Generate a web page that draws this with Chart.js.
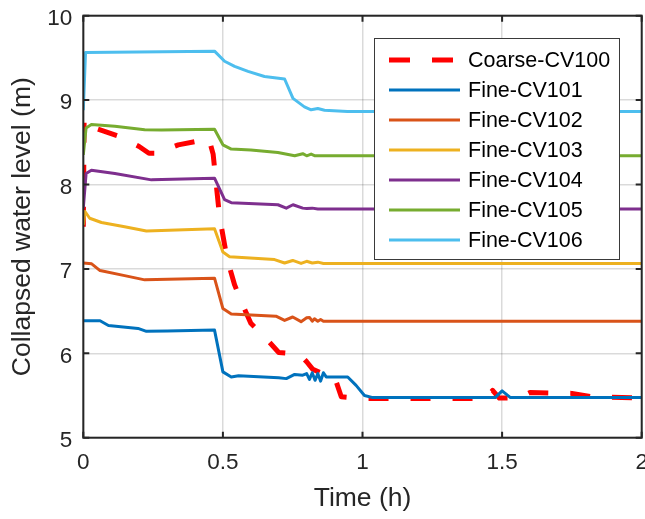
<!DOCTYPE html>
<html>
<head>
<meta charset="utf-8">
<script src="https://cdn.jsdelivr.net/npm/chart.js@4.4.1/dist/chart.umd.min.js"></script>
<style>
  html, body { margin: 0; padding: 0; overflow: hidden; background: #fff; }
  #wrap { width: 660px; height: 519px; }
</style>
</head>
<body>
<div id="wrap"><canvas id="level-chart" width="660" height="519"></canvas></div>
<script>
// series: [time (h), collapsed water level (m)]
const seriesNames = ['Coarse-CV100', 'Fine-CV101', 'Fine-CV102', 'Fine-CV103', 'Fine-CV104', 'Fine-CV105', 'Fine-CV106'];
const seriesColors = ['#ff0000', '#0072bd', '#d95319', '#edb120', '#7e2f8e', '#77ac30', '#4dbeee'];

const coarseCV100 = [[0, 7.5], [0.003, 8.78], [0.03, 8.68], [0.125, 8.575], [0.2, 8.45], [0.235, 8.37], [0.26, 8.37],
  [0.34, 8.47], [0.45, 8.54], [0.465, 8.36], [0.488, 7.62], [0.515, 7.12], [0.542, 6.81], [0.566, 6.61], [0.6, 6.355],
  [0.649, 6.195], [0.7, 6.01], [0.775, 5.99], [0.8, 5.9], [0.822, 5.81], [0.87, 5.74], [0.9, 5.72], [0.924, 5.485],
  [0.995, 5.465], [1.44, 5.465], [1.466, 5.56], [1.49, 5.47], [1.56, 5.47], [1.6, 5.535], [1.67, 5.53], [1.75, 5.525],
  [1.82, 5.485], [2.0, 5.47]];
const fineCV101 = [[0, 6.385], [0.06, 6.385], [0.09, 6.33], [0.196, 6.295], [0.226, 6.26], [0.3, 6.265], [0.47, 6.275],
  [0.5, 5.78], [0.53, 5.72], [0.556, 5.735], [0.7, 5.71], [0.727, 5.7], [0.757, 5.75], [0.786, 5.74], [0.8, 5.76],
  [0.81, 5.69], [0.82, 5.77], [0.83, 5.68], [0.84, 5.76], [0.85, 5.67], [0.86, 5.77], [0.87, 5.72], [0.894, 5.72],
  [0.947, 5.72], [0.977, 5.62], [1.007, 5.5], [1.037, 5.475], [1.475, 5.475], [1.5, 5.555], [1.53, 5.475], [2.0, 5.475]];
const fineCV102 = [[0, 7.07], [0.03, 7.06], [0.06, 6.98], [0.148, 6.92], [0.22, 6.87], [0.47, 6.89], [0.5, 6.53],
  [0.53, 6.465], [0.69, 6.44], [0.721, 6.39], [0.75, 6.43], [0.78, 6.375], [0.8, 6.42], [0.81, 6.425], [0.82, 6.38],
  [0.828, 6.41], [0.84, 6.38], [0.85, 6.4], [0.86, 6.38], [2.0, 6.38]];
const fineCV103 = [[0, 7.52], [0.006, 7.68], [0.023, 7.6], [0.065, 7.55], [0.148, 7.5], [0.226, 7.45], [0.47, 7.475],
  [0.5, 7.2], [0.524, 7.145], [0.685, 7.11], [0.721, 7.07], [0.75, 7.1], [0.78, 7.065], [0.8, 7.09], [0.82, 7.07],
  [0.84, 7.08], [0.86, 7.065], [2.0, 7.065]];
const fineCV104 = [[0, 7.72], [0.01, 8.13], [0.029, 8.17], [0.113, 8.13], [0.244, 8.055], [0.47, 8.075], [0.506, 7.82],
  [0.53, 7.785], [0.697, 7.76], [0.727, 7.72], [0.751, 7.76], [0.786, 7.72], [0.8, 7.715], [0.82, 7.72], [0.84, 7.71],
  [2.0, 7.71]];
const fineCV105 = [[0, 8.35], [0.01, 8.67], [0.029, 8.71], [0.113, 8.69], [0.22, 8.65], [0.28, 8.645], [0.47, 8.655],
  [0.5, 8.47], [0.53, 8.42], [0.6, 8.41], [0.697, 8.38], [0.757, 8.34], [0.786, 8.365], [0.8, 8.34], [0.816, 8.36],
  [0.83, 8.34], [2.0, 8.34]];
const fineCV106 = [[0, 8.88], [0.008, 9.565], [0.47, 9.58], [0.506, 9.46], [0.542, 9.4], [0.59, 9.34], [0.649, 9.28],
  [0.721, 9.25], [0.751, 9.02], [0.792, 8.92], [0.816, 8.885], [0.84, 8.9], [0.864, 8.88], [0.946, 8.865], [2.0, 8.865]];

const allSeries = [coarseCV100, fineCV101, fineCV102, fineCV103, fineCV104, fineCV105, fineCV106];

const xTicks = [0, 0.5, 1, 1.5, 2];
const yTicks = [5, 6, 7, 8, 9, 10];

const FONT = "'Liberation Sans', Arial, Helvetica, sans-serif";
const AXIS = '#262626';

// Frame, inward ticks and legend, MATLAB style
const matlabFrame = {
    id: 'matlabFrame',
    afterDatasetsDraw(chart) {
        const { ctx, chartArea, scales } = chart;
        const { left, right, top, bottom } = chartArea;
        ctx.save();
        ctx.strokeStyle = AXIS;
        ctx.lineWidth = 2;
        ctx.strokeRect(left, top, right - left, bottom - top);
        ctx.beginPath();
        scales.x.ticks.forEach(t => {
            const px = scales.x.getPixelForValue(t.value);
            ctx.moveTo(px, bottom); ctx.lineTo(px, bottom - 6);
            ctx.moveTo(px, top); ctx.lineTo(px, top + 6);
        });
        scales.y.ticks.forEach(t => {
            const py = scales.y.getPixelForValue(t.value);
            ctx.moveTo(left, py); ctx.lineTo(left + 6, py);
            ctx.moveTo(right, py); ctx.lineTo(right - 6, py);
        });
        ctx.stroke();

        // legend box
        const bx = 374.5, by = 38.5, bw = 245, bh = 221;
        ctx.fillStyle = '#fff';
        ctx.fillRect(bx, by, bw, bh);
        ctx.strokeStyle = '#3a3a3a';
        ctx.lineWidth = 1;
        ctx.strokeRect(bx, by, bw, bh);
        ctx.font = '21.5px ' + FONT;
        ctx.textBaseline = 'middle';
        ctx.textAlign = 'left';
        chart.data.datasets.forEach((ds, i) => {
            const ry = 60 + i * 30;
            ctx.beginPath();
            ctx.strokeStyle = ds.borderColor;
            ctx.lineWidth = ds.borderWidth;
            ctx.lineCap = 'butt';
            if (ds.borderDash) {
                ctx.setLineDash([21, 22]);
                ctx.moveTo(389, ry); ctx.lineTo(453, ry);
            } else {
                ctx.setLineDash([]);
                ctx.moveTo(389, ry); ctx.lineTo(460, ry);
            }
            ctx.stroke();
            ctx.setLineDash([]);
            ctx.fillStyle = '#000';
            ctx.fillText(ds.label, 468, ry + 1);
        });
        ctx.restore();
    }
};

function createChart() {
    const ctx = document.getElementById('level-chart').getContext('2d');
    const datasets = allSeries.map((s, i) => ({
        label: seriesNames[i],
        data: s.map(p => ({ x: p[0], y: p[1] })),
        borderColor: seriesColors[i],
        backgroundColor: seriesColors[i],
        borderWidth: i === 0 ? 5 : 3,
        borderDash: i === 0 ? [20, 22] : undefined,
        borderCapStyle: 'butt',
        borderJoinStyle: 'round',
        pointRadius: 0,
        tension: 0,
        fill: false,
        order: i === 0 ? 10 : 7 - i
    }));

    return new Chart(ctx, {
        type: 'line',
        data: { datasets },
        options: {
            responsive: false,
            animation: false,
            devicePixelRatio: 1,
            layout: { padding: { top: 15.7, right: 18.3, left: 0, bottom: 0 } },
            plugins: { legend: { display: false }, tooltip: { enabled: false } },
            scales: {
                x: {
                    type: 'linear',
                    min: 0, max: 2,
                    afterBuildTicks: s => { s.ticks = xTicks.map(v => ({ value: v })); },
                    ticks: { color: AXIS, font: { family: FONT, size: 22.5 }, padding: 12, maxRotation: 0,
                        callback: v => String(v) },
                    grid: { color: 'rgba(38,38,38,0.17)', lineWidth: 1.5, drawTicks: false },
                    border: { display: false },
                    title: { display: true, text: 'Time (h)', color: AXIS, font: { family: FONT, size: 26.5 }, padding: { top: 4, bottom: 4 } },
                    afterFit: s => { s.height = 81.3; s.paddingLeft = 0; s.paddingRight = 0; }
                },
                y: {
                    type: 'linear',
                    min: 5, max: 10,
                    afterBuildTicks: s => { s.ticks = yTicks.map(v => ({ value: v })); },
                    ticks: { color: AXIS, font: { family: FONT, size: 22.5 }, padding: 11, labelOffset: 3,
                        callback: v => String(v) },
                    grid: { color: 'rgba(38,38,38,0.17)', lineWidth: 1.5, drawTicks: false },
                    border: { display: false },
                    title: { display: true, text: 'Collapsed water level (m)', color: AXIS, font: { family: FONT, size: 26.5 }, padding: { top: 7, bottom: 7 } },
                    afterFit: s => { s.width = 83.3; s.paddingTop = 0; s.paddingBottom = 0; }
                }
            }
        },
        plugins: [matlabFrame]
    });
}

createChart();
</script>
</body>
</html>
